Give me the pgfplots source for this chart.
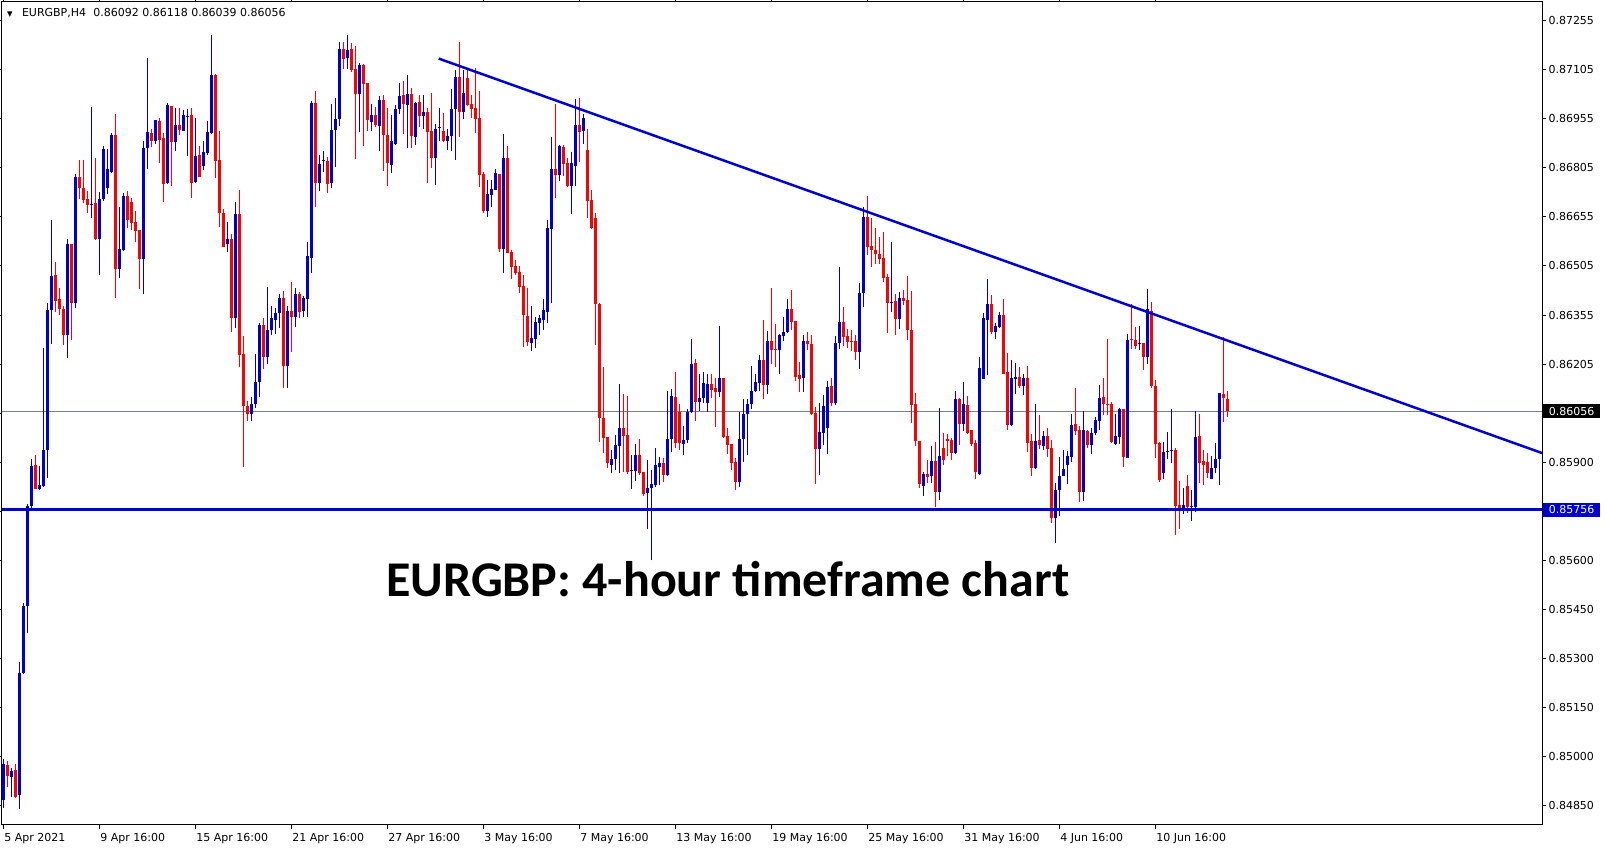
\documentclass[border=0pt]{standalone}
\usepackage{fontspec}
\setmainfont{DejaVu Sans}
\newfontfamily\titlefont{Carlito}
\usepackage{pgfplots}
\usepackage{pgfplotstable}
\pgfplotsset{compat=1.18}
\definecolor{cblue}{RGB}{0,0,205}
\definecolor{cred}{RGB}{255,0,0}
\definecolor{cgray}{RGB}{120,130,145}

\pgfplotstableread{
i o h l c
0 0.84867 0.84994 0.84844 0.84978
2 0.84937 0.84966 0.84878 0.84957
4 0.84883 0.85288 0.84841 0.85257
5 0.85257 0.85470 0.85254 0.85459
6 0.85459 0.85771 0.85377 0.85767
7 0.85767 0.85909 0.85756 0.85887
9 0.85818 0.85887 0.85816 0.85829
10 0.85826 0.86249 0.85823 0.85937
11 0.85937 0.86387 0.85853 0.86365
12 0.86365 0.86642 0.86262 0.86470
16 0.86289 0.86583 0.86218 0.86568
18 0.86387 0.86781 0.86370 0.86772
22 0.86688 0.86985 0.86648 0.86690
24 0.86583 0.86725 0.86472 0.86704
25 0.86704 0.86866 0.86699 0.86857
26 0.86738 0.86857 0.86719 0.86795
27 0.86787 0.86908 0.86784 0.86900
29 0.86490 0.86679 0.86464 0.86552
30 0.86549 0.86722 0.86545 0.86715
35 0.86521 0.86883 0.86413 0.86861
36 0.86861 0.87137 0.86797 0.86911
38 0.86883 0.86945 0.86874 0.86945
41 0.86753 0.86998 0.86750 0.86993
43 0.86878 0.86984 0.86850 0.86932
45 0.86914 0.86976 0.86912 0.86960
46 0.86956 0.86981 0.86837 0.86958
48 0.86757 0.86951 0.86754 0.86836
50 0.86807 0.86881 0.86793 0.86848
51 0.86845 0.86943 0.86840 0.86911
52 0.86907 0.87205 0.86903 0.87084
56 0.86568 0.86635 0.86543 0.86582
58 0.86340 0.86697 0.86309 0.86659
62 0.86048 0.86099 0.86027 0.86077
63 0.86077 0.86231 0.86066 0.86146
64 0.86146 0.86326 0.86099 0.86321
66 0.86221 0.86437 0.86200 0.86303
67 0.86303 0.86378 0.86288 0.86342
68 0.86336 0.86370 0.86293 0.86357
69 0.86355 0.86414 0.86309 0.86403
71 0.86195 0.86378 0.86128 0.86363
73 0.86345 0.86432 0.86314 0.86414
75 0.86363 0.86407 0.86345 0.86401
76 0.86398 0.86574 0.86345 0.86530
77 0.86525 0.87005 0.86479 0.86997
79 0.86754 0.86840 0.86729 0.86811
80 0.86821 0.86852 0.86788 0.86823
82 0.86754 0.86994 0.86738 0.86917
83 0.86917 0.87013 0.86803 0.86950
84 0.86950 0.87185 0.86927 0.87164
86 0.87136 0.87205 0.87102 0.87161
89 0.87025 0.87122 0.86910 0.87115
92 0.86940 0.86994 0.86914 0.86960
94 0.86927 0.87020 0.86850 0.87007
97 0.86810 0.86963 0.86783 0.86881
98 0.86874 0.86992 0.86871 0.86979
99 0.86979 0.87058 0.86965 0.87020
101 0.86991 0.87084 0.86862 0.87027
103 0.86894 0.87000 0.86869 0.86997
105 0.86958 0.87023 0.86920 0.86971
108 0.86831 0.86935 0.86747 0.86919
109 0.86922 0.86982 0.86883 0.86925
111 0.86881 0.86920 0.86855 0.86898
112 0.86896 0.87040 0.86850 0.86979
113 0.86979 0.87099 0.86824 0.87079
115 0.86970 0.87099 0.86948 0.87030
121 0.86667 0.86762 0.86649 0.86721
122 0.86717 0.86764 0.86679 0.86735
123 0.86733 0.86796 0.86731 0.86785
125 0.86551 0.86902 0.86478 0.86831
132 0.86266 0.86377 0.86239 0.86279
133 0.86277 0.86344 0.86249 0.86329
134 0.86326 0.86351 0.86288 0.86340
135 0.86334 0.86398 0.86304 0.86364
136 0.86360 0.86641 0.86326 0.86616
137 0.86614 0.86894 0.86388 0.86795
139 0.86779 0.86869 0.86760 0.86866
142 0.86744 0.86847 0.86659 0.86815
143 0.86807 0.87010 0.86744 0.86931
145 0.86912 0.86964 0.86872 0.86951
152 0.85891 0.85938 0.85866 0.85909
153 0.85909 0.85983 0.85877 0.85954
154 0.85951 0.86138 0.85866 0.86005
157 0.85873 0.85923 0.85818 0.85877
158 0.85872 0.85956 0.85842 0.85923
161 0.85807 0.85907 0.85695 0.85820
162 0.85821 0.85876 0.85600 0.85834
163 0.85831 0.85945 0.85824 0.85893
164 0.85886 0.85917 0.85829 0.85899
166 0.85862 0.86118 0.85858 0.85970
167 0.85970 0.86125 0.85930 0.86102
170 0.85955 0.86010 0.85922 0.85968
171 0.85968 0.86062 0.85958 0.86054
172 0.86054 0.86278 0.86051 0.86200
174 0.86085 0.86171 0.86056 0.86097
175 0.86095 0.86175 0.86082 0.86141
176 0.86082 0.86171 0.86054 0.86138
179 0.86116 0.86317 0.86099 0.86159
184 0.85839 0.86054 0.85824 0.85970
185 0.85970 0.86092 0.85901 0.86048
186 0.86046 0.86092 0.85922 0.86079
187 0.86077 0.86193 0.86064 0.86118
188 0.86118 0.86171 0.86116 0.86144
189 0.86141 0.86229 0.86118 0.86214
191 0.86136 0.86301 0.86108 0.86272
194 0.86242 0.86291 0.86169 0.86288
195 0.86285 0.86345 0.86270 0.86298
196 0.86298 0.86399 0.86295 0.86368
200 0.86157 0.86288 0.86116 0.86272
204 0.85939 0.86081 0.85862 0.85993
205 0.85990 0.86105 0.85954 0.86071
206 0.86005 0.86148 0.85926 0.86129
208 0.86081 0.86285 0.86076 0.86265
209 0.86263 0.86496 0.86247 0.86329
214 0.86237 0.86448 0.86186 0.86418
215 0.86416 0.86680 0.86375 0.86650
222 0.86387 0.86574 0.86360 0.86390
224 0.86339 0.86421 0.86306 0.86402
230 0.85827 0.85870 0.85796 0.85864
232 0.85857 0.85949 0.85837 0.85903
234 0.85809 0.86066 0.85786 0.85918
238 0.85929 0.86119 0.85926 0.86092
240 0.86017 0.86146 0.85995 0.86078
244 0.85865 0.86221 0.85862 0.86188
245 0.86154 0.86357 0.86154 0.86340
246 0.86336 0.86460 0.86167 0.86384
248 0.86298 0.86326 0.86278 0.86316
249 0.86314 0.86360 0.86309 0.86350
252 0.86015 0.86214 0.86010 0.86159
253 0.86154 0.86202 0.86108 0.86161
255 0.86133 0.86169 0.86104 0.86156
258 0.85881 0.86077 0.85879 0.85965
260 0.85951 0.85996 0.85937 0.85979
263 0.85731 0.85837 0.85652 0.85816
264 0.85814 0.85917 0.85736 0.85857
265 0.85857 0.85937 0.85857 0.85879
266 0.85891 0.85934 0.85834 0.85919
267 0.85917 0.86046 0.85901 0.86013
270 0.85809 0.86058 0.85783 0.85999
272 0.85953 0.86004 0.85924 0.85989
273 0.85989 0.86037 0.85984 0.86028
274 0.86027 0.86135 0.85999 0.86097
278 0.85955 0.86046 0.85953 0.85979
279 0.85976 0.86066 0.85955 0.86064
281 0.85914 0.86293 0.85914 0.86275
284 0.86262 0.86316 0.86244 0.86264
286 0.86221 0.86429 0.86200 0.86367
290 0.85868 0.85963 0.85850 0.85930
291 0.85932 0.85992 0.85910 0.85934
292 0.85934 0.86063 0.85899 0.85937
295 0.85757 0.85821 0.85742 0.85769
297 0.85764 0.85814 0.85721 0.85767
298 0.85762 0.86056 0.85747 0.85976
302 0.85850 0.85920 0.85848 0.85883
303 0.85883 0.85958 0.85868 0.85909
304 0.85909 0.86113 0.85829 0.86113
}\up

\pgfplotstableread{
i o h l c
1 0.84975 0.84988 0.84906 0.84940
3 0.84960 0.84978 0.84875 0.84878
8 0.85891 0.85921 0.85819 0.85819
13 0.86472 0.86512 0.86359 0.86393
14 0.86399 0.86433 0.86351 0.86367
15 0.86367 0.86379 0.86259 0.86289
17 0.86568 0.86568 0.86274 0.86387
19 0.86772 0.86823 0.86704 0.86738
20 0.86738 0.86823 0.86691 0.86702
21 0.86704 0.86729 0.86661 0.86687
23 0.86691 0.86831 0.86579 0.86583
28 0.86900 0.86965 0.86402 0.86490
31 0.86715 0.86729 0.86617 0.86642
32 0.86695 0.86707 0.86611 0.86630
33 0.86633 0.86668 0.86572 0.86606
34 0.86609 0.86609 0.86429 0.86521
37 0.86908 0.86920 0.86865 0.86883
39 0.86943 0.86951 0.86815 0.86885
40 0.86892 0.86905 0.86696 0.86750
42 0.86989 0.86989 0.86744 0.86878
44 0.86932 0.86982 0.86901 0.86917
47 0.86963 0.86984 0.86708 0.86754
49 0.86840 0.86867 0.86773 0.86773
53 0.87084 0.87087 0.86769 0.86822
54 0.86824 0.86914 0.86620 0.86661
55 0.86662 0.86674 0.86559 0.86559
57 0.86582 0.86597 0.86298 0.86340
59 0.86659 0.86731 0.86190 0.86228
60 0.86231 0.86285 0.85886 0.86071
61 0.86071 0.86087 0.86025 0.86046
65 0.86321 0.86340 0.86185 0.86223
70 0.86401 0.86422 0.86126 0.86195
72 0.86363 0.86450 0.86236 0.86345
74 0.86414 0.86420 0.86340 0.86360
78 0.86997 0.87035 0.86680 0.86754
81 0.86821 0.86834 0.86723 0.86752
85 0.87164 0.87185 0.87102 0.87133
87 0.87164 0.87183 0.87092 0.87099
88 0.87102 0.87172 0.86827 0.87027
90 0.87115 0.87118 0.86868 0.87056
91 0.87058 0.87058 0.86912 0.86945
93 0.86960 0.86987 0.86924 0.86930
95 0.87007 0.87023 0.86791 0.86899
96 0.86899 0.86984 0.86745 0.86814
100 0.87023 0.87064 0.86903 0.86994
102 0.87027 0.87043 0.86862 0.86896
104 0.87000 0.87023 0.86924 0.86958
106 0.86971 0.86982 0.86754 0.86910
107 0.86912 0.87028 0.86800 0.86831
110 0.86914 0.86968 0.86879 0.86881
114 0.87079 0.87185 0.86893 0.86970
116 0.87075 0.87105 0.86989 0.86991
117 0.86994 0.87022 0.86951 0.86981
118 0.86984 0.87105 0.86905 0.86948
119 0.86951 0.87035 0.86742 0.86778
120 0.86781 0.86788 0.86661 0.86667
124 0.86782 0.86782 0.86543 0.86551
126 0.86831 0.86866 0.86540 0.86540
127 0.86543 0.86548 0.86461 0.86496
128 0.86499 0.86518 0.86472 0.86480
129 0.86481 0.86499 0.86418 0.86436
130 0.86440 0.86472 0.86253 0.86349
131 0.86347 0.86434 0.86255 0.86268
138 0.86795 0.86996 0.86709 0.86779
140 0.86864 0.86869 0.86775 0.86811
141 0.86815 0.86829 0.86742 0.86744
144 0.86931 0.87014 0.86818 0.86909
146 0.86855 0.86918 0.86646 0.86698
147 0.86703 0.86731 0.86614 0.86616
148 0.86646 0.86663 0.86257 0.86383
149 0.86385 0.86388 0.85961 0.86034
150 0.86035 0.86192 0.85929 0.85974
151 0.85978 0.85978 0.85883 0.85899
155 0.86005 0.86108 0.85869 0.85981
156 0.85983 0.86101 0.85864 0.85869
159 0.85923 0.85972 0.85861 0.85866
160 0.85869 0.85869 0.85796 0.85804
165 0.85899 0.85914 0.85839 0.85862
168 0.86099 0.86175 0.85945 0.85958
169 0.86054 0.86079 0.85937 0.85958
173 0.86202 0.86216 0.86027 0.86085
177 0.86138 0.86171 0.86097 0.86120
178 0.86126 0.86159 0.86008 0.86116
180 0.86159 0.86159 0.85974 0.85977
181 0.85981 0.86004 0.85924 0.85953
182 0.85955 0.85955 0.85876 0.85899
183 0.85901 0.85912 0.85814 0.85839
190 0.86214 0.86334 0.86092 0.86136
192 0.86272 0.86434 0.86200 0.86244
193 0.86246 0.86322 0.86190 0.86243
197 0.86368 0.86427 0.86303 0.86329
198 0.86332 0.86332 0.86147 0.86162
199 0.86167 0.86205 0.86116 0.86154
201 0.86272 0.86298 0.86244 0.86262
202 0.86262 0.86290 0.86044 0.86048
203 0.86051 0.86068 0.85832 0.85939
207 0.86132 0.86158 0.86071 0.86081
210 0.86329 0.86374 0.86255 0.86283
211 0.86285 0.86306 0.86250 0.86268
212 0.86272 0.86303 0.86239 0.86268
213 0.86272 0.86288 0.86211 0.86237
216 0.86650 0.86713 0.86535 0.86558
217 0.86562 0.86647 0.86496 0.86550
218 0.86550 0.86616 0.86506 0.86537
219 0.86537 0.86588 0.86506 0.86520
220 0.86525 0.86604 0.86451 0.86464
221 0.86467 0.86474 0.86295 0.86387
223 0.86392 0.86415 0.86290 0.86339
225 0.86402 0.86428 0.86380 0.86394
226 0.86397 0.86469 0.86275 0.86303
227 0.86303 0.86423 0.86020 0.86076
228 0.86078 0.86112 0.85949 0.85964
229 0.85964 0.85964 0.85820 0.85832
231 0.85864 0.85908 0.85837 0.85855
233 0.85903 0.85962 0.85763 0.85809
235 0.85944 0.85990 0.85891 0.85908
236 0.85971 0.85987 0.85918 0.85964
237 0.85969 0.85974 0.85908 0.85929
239 0.86092 0.86095 0.85954 0.86017
241 0.86074 0.86102 0.85987 0.85990
242 0.85999 0.85999 0.85951 0.85955
243 0.85958 0.85968 0.85848 0.85870
247 0.86384 0.86412 0.86293 0.86298
250 0.86350 0.86399 0.86169 0.86171
251 0.86175 0.86233 0.85999 0.86015
254 0.86161 0.86190 0.86128 0.86133
256 0.86159 0.86193 0.85930 0.85958
257 0.85965 0.85986 0.85857 0.85881
259 0.85968 0.86043 0.85941 0.85953
261 0.85979 0.86004 0.85917 0.85941
262 0.85943 0.85968 0.85714 0.85731
268 0.86017 0.86128 0.85982 0.85996
269 0.85999 0.86010 0.85778 0.85809
271 0.85994 0.85999 0.85945 0.85953
275 0.86099 0.86159 0.86044 0.86079
276 0.86079 0.86278 0.86044 0.86077
277 0.86079 0.86085 0.85958 0.85961
280 0.86063 0.86063 0.85886 0.85917
282 0.86278 0.86384 0.86247 0.86273
283 0.86273 0.86312 0.86247 0.86255
285 0.86265 0.86265 0.86182 0.86221
287 0.86363 0.86391 0.86126 0.86133
288 0.86133 0.86151 0.85912 0.85955
289 0.85958 0.85963 0.85840 0.85845
293 0.85937 0.85943 0.85677 0.85767
294 0.85769 0.85842 0.85695 0.85757
296 0.85827 0.85862 0.85745 0.85762
299 0.85979 0.86046 0.85837 0.85899
300 0.85903 0.85937 0.85831 0.85891
301 0.85901 0.85927 0.85852 0.85868
305 0.86110 0.86283 0.86023 0.86095
306 0.86092 0.86118 0.86039 0.86056
}\dn

\begin{document}
\begin{tikzpicture}
\useasboundingbox (0,0) rectangle (803.5pt,425pt);
\begin{axis}[
  at={(0.75pt,12.5pt)}, anchor=south west,
  scale only axis, width=770.3pt, height=411.5pt,
  xmin=-0.45, xmax=384.7, ymin=0.84791, ymax=0.87307,
  axis line style={line width=0.5pt, black},
  tick align=outside, major tick length=2pt,
  tick style={black, line width=0.5pt},
  xtick={0,24,48,72,96,120,144,168,192,216,240,264,288},
  xticklabels={5 Apr 2021,9 Apr 16:00,15 Apr 16:00,21 Apr 16:00,27 Apr 16:00,3 May 16:00,7 May 16:00,13 May 16:00,19 May 16:00,25 May 16:00,31 May 16:00,4 Jun 16:00,10 Jun 16:00},
  xticklabel style={anchor=north west, inner sep=0pt, xshift=0.3pt, yshift=-2pt, font=\fontsize{5.5}{6}\selectfont},
  ytick={0.8485,0.85,0.8515,0.853,0.8545,0.856,0.8575,0.859,0.8605,0.862,0.8635,0.865,0.8665,0.868,0.8695,0.871,0.8725},
  yticklabels={0.84850,0.85000,0.85150,0.85300,0.85450,0.85600,{},0.85900,{},0.86205,0.86355,0.86505,0.86655,0.86805,0.86955,0.87105,0.87255},
  yticklabel pos=right,
  yticklabel style={anchor=west, inner sep=0pt, xshift=1pt, font=\fontsize{5.5}{6}\selectfont},
  clip=true,
  candle/.style={draw=none, no markers, forget plot,
    error bars/y dir=plus, error bars/y explicit, error bars/error mark=none},
]
% bid line
\addplot[cgray, line width=0.5pt, forget plot] coordinates {(-0.45,0.86056) (384.7,0.86056)};
% wicks
\addplot[candle, error bars/error bar style={line width=0.5pt, draw=cblue}]
  table[x=i, y=l, y error plus expr=\thisrow{h}-\thisrow{l}] {\up};
\addplot[candle, error bars/error bar style={line width=0.5pt, draw=cred}]
  table[x=i, y=l, y error plus expr=\thisrow{h}-\thisrow{l}] {\dn};
% bodies
\addplot[candle, error bars/error bar style={line width=1.55pt, draw=cblue}]
  table[x=i, y=o, y error plus expr={max(\thisrow{c}-\thisrow{o},0.00002)}] {\up};
\addplot[candle, error bars/error bar style={line width=1.55pt, draw=cred}]
  table[x=i, y=c, y error plus expr={max(\thisrow{o}-\thisrow{c},0.00002)}] {\dn};
% support line
\addplot[cblue, line width=1.4pt, forget plot] coordinates {(-0.45,0.85756) (384.7,0.85756)};
% trend line
\addplot[cblue, line width=1.25pt, forget plot] coordinates {(108.85,0.87134) (384.7,0.85928)};
\end{axis}
% price boxes at right axis
\node[fill=black, text=white, anchor=west, minimum width=28.5pt, minimum height=7pt, inner sep=0pt, font=\fontsize{5.5}{6}\selectfont] at (771.3pt,{12.5pt+411.5pt*(0.86056-0.84791)/(0.87307-0.84791)}) {0.86056};
\node[fill=cblue, text=white, anchor=west, minimum width=28.5pt, minimum height=7pt, inner sep=0pt, font=\fontsize{5.5}{6}\selectfont] at (771.3pt,{12.5pt+411.5pt*(0.85756-0.84791)/(0.87307-0.84791)}) {0.85756};
% header
\node[anchor=base west, inner sep=0pt, font=\fontsize{3.6}{4}\selectfont] at (3.3pt,416.9pt) {▼};
\node[anchor=base west, inner sep=0pt, font=\fontsize{5.5}{6}\selectfont] at (10.8pt,416.7pt) {EURGBP,H4\hspace{3.6pt}0.86092 0.86118 0.86039 0.86056};
% title
\node[anchor=base, inner sep=0pt, font=\titlefont\bfseries\fontsize{25}{30}\selectfont] at (363.9pt,126.8pt) {EURGBP: 4-hour timeframe chart};
\end{tikzpicture}
\end{document}
